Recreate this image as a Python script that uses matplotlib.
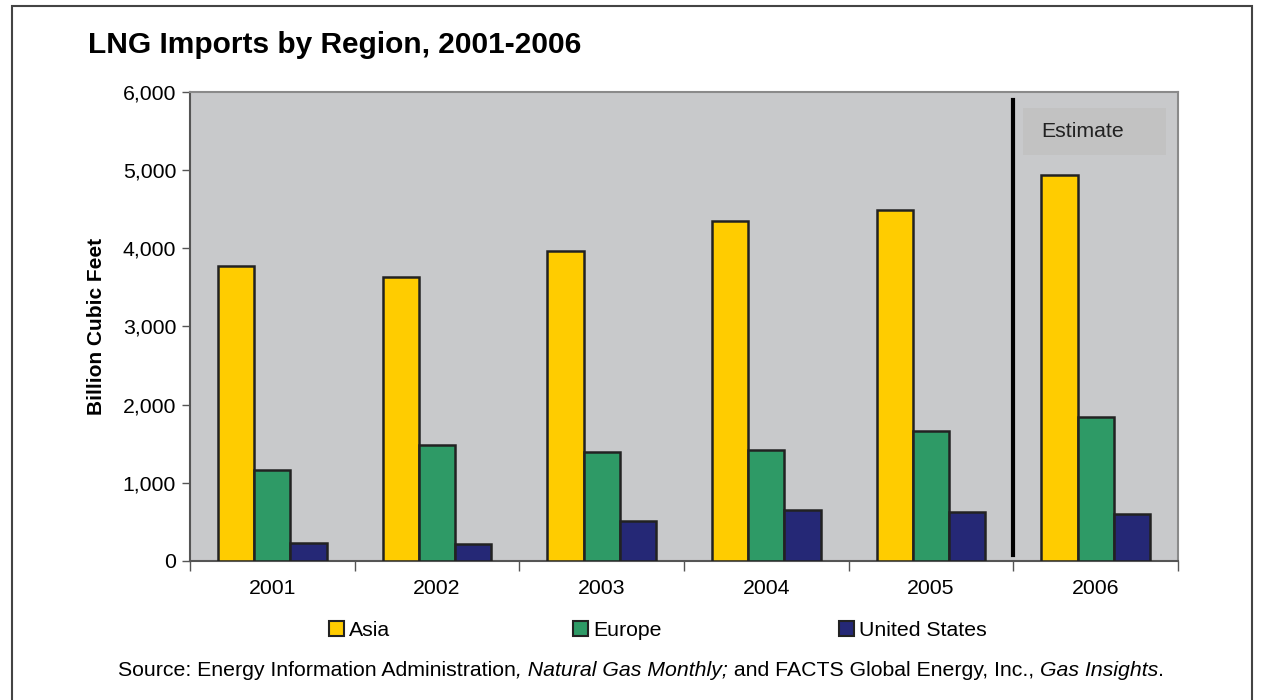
import matplotlib.pyplot as plt
import numpy as np
from matplotlib.patches import Rectangle, Patch

plt.rcParams['font.family'] = ['Liberation Sans', 'DejaVu Sans']

years = ['2001', '2002', '2003', '2004', '2005', '2006']
asia = [3770, 3630, 3965, 4345, 4490, 4935]
europe = [1165, 1485, 1395, 1420, 1665, 1840]
us = [230, 215, 510, 650, 625, 600]
series = ['Asia', 'Europe', 'United States']
colors = ['#ffcc00', '#2e9a66', '#252876']

fig = plt.figure(figsize=(12.61, 7.0), dpi=100)
W, H = 1261, 700
ax = fig.add_axes([190 / W, 1 - 561 / H, 988 / W, 469 / H])
ax.set_facecolor('#c8c9cb')

x = np.arange(len(years))
bw = 0.22
for i, (vals, c, name) in enumerate(zip([asia, europe, us], colors, series)):
    ax.bar(x + (i - 1) * bw, vals, bw, color=c, edgecolor='#222222',
           linewidth=1.8, label=name, zorder=3)

fs = 15.3
ax.set_xlim(-0.5, len(years) - 0.5)
ax.set_ylim(0, 6000)
ax.set_yticks(range(0, 6001, 1000))
ax.set_yticklabels([f'{v:,}' for v in range(0, 6001, 1000)], fontsize=fs)
ax.set_xticks(x)
ax.set_xticklabels(years, fontsize=fs)
ax.set_xticks(np.arange(-0.5, len(years)), minor=True)
ax.tick_params(axis='x', which='major', length=0, pad=13)
ax.tick_params(axis='x', which='minor', length=7, width=1, color='#555555', direction='out')
ax.tick_params(axis='y', length=6, width=1, color='#555555', pad=4)
for s in ax.spines.values():
    s.set_color('#8a8a8a')
    s.set_linewidth(1.5)
ax.spines['bottom'].set_color('#555555')
ax.spines['left'].set_color('#555555')

ax.set_ylabel('Billion Cubic Feet', fontsize=15, fontweight='bold', labelpad=12)

# estimate divider and box
ax.plot([4.5, 4.5], [80, 5900], color='black', linewidth=3, zorder=4)
ax.add_patch(Rectangle((4.56, 5200), 0.87, 600, facecolor='#c2c2c2',
                       edgecolor='none', zorder=2))
ax.text(4.92, 5500, 'Estimate', fontsize=fs, color='#222222',
        ha='center', va='center', zorder=4)

fig.text(88 / W, 1 - 45 / H, 'LNG Imports by Region, 2001-2006', fontsize=21.5,
         fontweight='bold', ha='left', va='center')

# legend, one entry per position
leg_x = [329, 573, 839]
for c, name, lx in zip(colors, series, leg_x):
    h = Patch(facecolor=c, edgecolor='#222222', linewidth=1.5)
    fig.legend([h], [name], loc='center left', bbox_to_anchor=(lx / W, 1 - 630 / H),
               frameon=False, fontsize=fs, handlelength=0.7, handleheight=0.7,
               handletextpad=0.25, borderpad=0, borderaxespad=0)

# source line with italic parts
parts = [('Source: Energy Information Administration', 'normal'),
         (', Natural Gas Monthly;', 'italic'),
         (' and FACTS Global Energy, Inc., ', 'normal'),
         ('Gas Insights', 'italic'),
         ('.', 'normal')]
prev = fig.text(118 / W, 1 - 670 / H, parts[0][0], fontsize=fs, ha='left', va='center')
for txt, style in parts[1:]:
    prev = ax.annotate(txt, xy=(1, 0.5), xycoords=prev, va='center', ha='left',
                       fontsize=fs, style=style, annotation_clip=False)

# outer frame
fig.add_artist(Rectangle((12 / W, -0.05), 1240 / W, 1.05 - 6 / H,
                         transform=fig.transFigure, fill=False,
                         edgecolor='#444444', linewidth=1.5))

fig.savefig('out.png', dpi=100)
